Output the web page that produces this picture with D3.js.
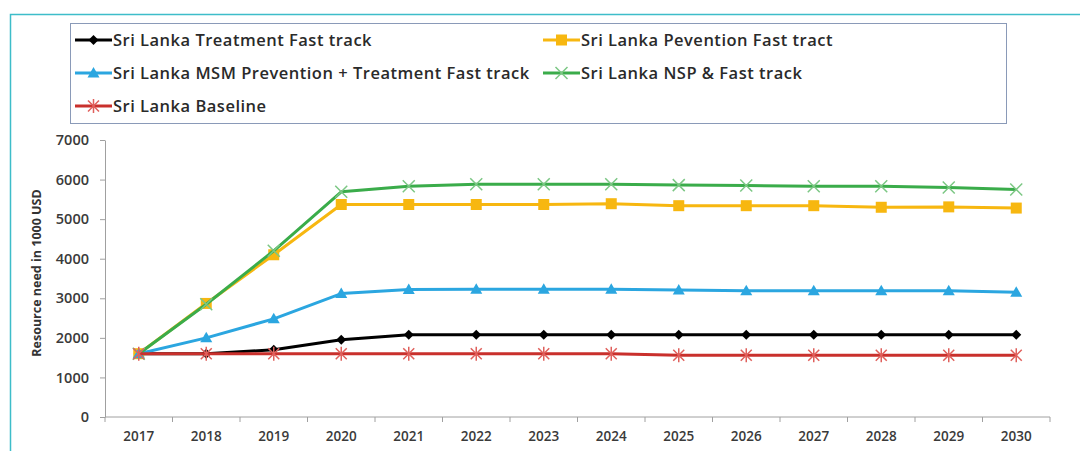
<!DOCTYPE html>
<html>
<head>
  <meta charset="utf-8">
  <title>Sri Lanka resource need</title>
  <script src="https://d3js.org/d3.v7.min.js"></script>
  <style>
    html, body { margin: 0; padding: 0; background: #ffffff; }
    body { width: 1080px; height: 451px; overflow: hidden; font-family: 'Open Sans', Lato, sans-serif; }
    .axis text { font-family: 'Open Sans', sans-serif; font-weight: 600; fill: #3a3a3a; }
    .axis path, .axis line { stroke: #a0a0a0; }
  </style>
</head>
<body>
  <svg id="chart" width="1080" height="451"></svg>

  <script>
    // values (1000 USD)
    const years = ["2017", "2018", "2019", "2020", "2021", "2022", "2023", "2024", "2025", "2026", "2027", "2028", "2029", "2030"];
    const treatment = [1600, 1600, 1700, 1950, 2080, 2080, 2080, 2080, 2080, 2080, 2080, 2080, 2080, 2080];
    const prevention = [1600, 2870, 4100, 5370, 5370, 5370, 5370, 5390, 5340, 5340, 5340, 5300, 5310, 5280];
    const msm = [1600, 2000, 2480, 3120, 3220, 3230, 3230, 3230, 3210, 3190, 3190, 3190, 3190, 3150];
    const nsp = [1600, 2850, 4200, 5690, 5830, 5880, 5880, 5880, 5860, 5850, 5830, 5830, 5800, 5750];
    const baseline = [1600, 1600, 1600, 1600, 1600, 1600, 1600, 1600, 1560, 1560, 1560, 1560, 1560, 1560];
    const yTicks = [0, 1000, 2000, 3000, 4000, 5000, 6000, 7000];

    const series = [
      { name: "Sri Lanka Treatment Fast track", values: treatment, color: "#000000", marker: "diamond", col: 0, row: 0 },
      { name: "Sri Lanka Pevention Fast tract", values: prevention, color: "#f7b710", marker: "square", col: 1, row: 0 },
      { name: "Sri Lanka MSM Prevention + Treatment Fast track", values: msm, color: "#2ba6e0", marker: "triangle", col: 0, row: 1 },
      { name: "Sri Lanka NSP & Fast track", values: nsp, color: "#3aac4a", marker: "cross", col: 1, row: 1 },
      { name: "Sri Lanka Baseline", values: baseline, color: "#c9302c", marker: "star", col: 0, row: 2 }
    ];

    const svg = d3.select("#chart");

    // teal frame around the figure
    svg.append("path")
      .attr("d", "M10.5,451 L10.5,14.5 L1080,14.5")
      .attr("fill", "none")
      .attr("stroke", "#3dbdc9")
      .attr("stroke-width", 1.5);

    const x = d3.scaleBand().domain(years).range([105, 1050]).padding(0);
    const y = d3.scaleLinear().domain([0, 7000]).range([417, 140]);
    const cx = d => x(d) + x.bandwidth() / 2;

    // y axis
    svg.append("g")
      .attr("class", "axis")
      .attr("transform", "translate(105,0)")
      .call(d3.axisLeft(y).tickValues(yTicks).tickFormat(d3.format("d")).tickSize(5).tickSizeOuter(0).tickPadding(11))
      .call(g => g.selectAll("text").attr("font-size", 14.5));

    // x axis: labels centred, ticks on category boundaries
    const xg = svg.append("g")
      .attr("class", "axis")
      .attr("transform", "translate(0,417)")
      .call(d3.axisBottom(x).tickSize(0).tickPadding(14))
      .call(g => g.selectAll("text").attr("font-size", 13.5));
    xg.select(".domain").remove();
    xg.append("line")
      .attr("x1", x.range()[0]).attr("x2", x.range()[1])
      .attr("stroke", "#a0a0a0");
    xg.selectAll(".bound")
      .data(years.map(d => x(d)).concat([x.range()[1]]))
      .join("line")
      .attr("class", "bound")
      .attr("x1", d => d).attr("x2", d => d)
      .attr("y1", 0).attr("y2", 5)
      .attr("stroke", "#a0a0a0");

    // y axis title
    svg.append("text")
      .attr("transform", "translate(41,273) rotate(-90)")
      .attr("text-anchor", "middle")
      .attr("font-family", "'Open Sans', sans-serif")
      .attr("font-size", 12.5)
      .attr("font-weight", "bold")
      .attr("fill", "#333")
      .text("Resource need in 1000 USD");

    function drawMarker(g, type, color) {
      if (type === "diamond") {
        g.append("path").attr("d", "M0,-5 L5,0 L0,5 L-5,0 Z").attr("fill", color);
      } else if (type === "square") {
        g.append("rect").attr("x", -5.5).attr("y", -5.5).attr("width", 11).attr("height", 11).attr("fill", color);
      } else if (type === "triangle") {
        g.append("path").attr("d", "M0,-6 L6,4.5 L-6,4.5 Z").attr("fill", color);
      } else if (type === "cross") {
        g.append("path").attr("d", "M-6,-6 L6,6 M-6,6 L6,-6")
          .attr("stroke", "#7cc784").attr("stroke-width", 1.5).attr("fill", "none");
      } else if (type === "star") {
        g.append("path").attr("d", "M-5.5,-5.5 L5.5,5.5 M-5.5,5.5 L5.5,-5.5 M0,-7 L0,7")
          .attr("stroke", "#e0605c").attr("stroke-width", 1.5).attr("fill", "none");
      }
    }

    const line = d3.line()
      .x((d, i) => cx(years[i]))
      .y(d => y(d));

    series.forEach(s => {
      const g = svg.append("g");
      g.append("path")
        .datum(s.values)
        .attr("d", line)
        .attr("fill", "none")
        .attr("stroke", s.color)
        .attr("stroke-width", 3)
        .attr("stroke-linejoin", "round");
      s.values.forEach((v, i) => {
        const m = g.append("g").attr("transform", `translate(${cx(years[i])},${y(v)})`);
        drawMarker(m, s.marker, s.color);
      });
    });

    // legend
    svg.append("rect")
      .attr("x", 70.5).attr("y", 23.5)
      .attr("width", 936).attr("height", 100)
      .attr("fill", "#fff")
      .attr("stroke", "#8a9ab8")
      .attr("stroke-width", 1);

    const legendX = [75, 543];
    const legendY = [40, 73, 106];
    series.forEach(s => {
      const lg = svg.append("g")
        .attr("transform", `translate(${legendX[s.col]},${legendY[s.row]})`);
      lg.append("line")
        .attr("x1", 0).attr("x2", 37)
        .attr("stroke", s.color).attr("stroke-width", 3);
      const m = lg.append("g").attr("transform", "translate(18.5,0)");
      drawMarker(m, s.marker, s.color);
      lg.append("text")
        .attr("x", 38)
        .attr("dy", "0.35em")
        .attr("font-size", 16.5)
        .attr("font-weight", 600)
        .attr("letter-spacing", 0.5)
        .attr("fill", "#2a2a2a")
        .text(s.name);
    });
  </script>
</body>
</html>
